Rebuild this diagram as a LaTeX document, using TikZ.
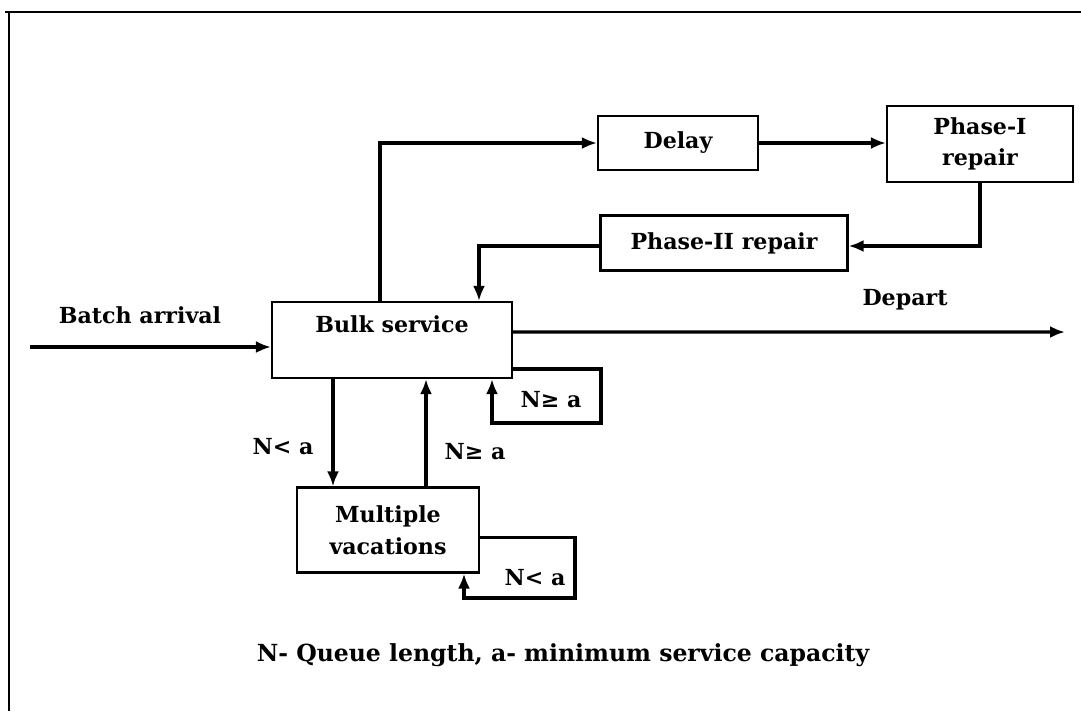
\documentclass[tikz,border=0pt]{standalone}
\usepackage{fontspec}
\setmainfont{DejaVu Serif}
\usetikzlibrary{arrows.meta}
\begin{document}
\begin{tikzpicture}[x=0.02cm, y=-0.02cm, line width=1.8pt,
  box/.style={draw, line width=1.2pt, align=center, font=\fontsize{12.6}{18}\selectfont\bfseries},
  lbl/.style={font=\fontsize{12.6}{17}\selectfont\bfseries},
  arr/.style={-{Latex[length=0.3cm, width=0.24cm]}}]
\useasboundingbox (0,0) rectangle (1081,711);
\draw[line width=1.2pt] (5,12) -- (1081,12);
\draw[line width=1.2pt] (9,12) -- (9,711);

\node (bulk) at (392, 340) [box, minimum width=4.8cm, minimum height=1.52cm] {Bulk service\\\mbox{}};
\node (delay) at (678, 143) [box, minimum width=3.2cm, minimum height=1.08cm] {Delay};
\node (phase1) at (980, 144) [box, minimum width=3.72cm, minimum height=1.52cm] {Phase-I\\repair};
\node (phase2) at (724, 243) [box, minimum width=4.94cm, minimum height=1.1cm] {Phase-II repair};
\node (vac) at (388, 530) [box, minimum width=3.64cm, minimum height=1.7cm] {Multiple\\vacations};

\coordinate (arrive) at (30, 347);
\coordinate (depart) at (1065, 332);
\coordinate (loopA) at (601, 423);
\coordinate (loopB) at (575, 598);

\node (batch) at (140, 315) [lbl] {Batch arrival};
\node (out) at (905, 300) [lbl] {Depart};
\node (geA) at (551, 400) [lbl] {N≥ a};
\node (ltA) at (283, 447) [lbl] {N< a};
\node (geB) at (475, 452) [lbl] {N≥ a};
\node (ltB) at (535, 578) [lbl] {N< a};
\node (note) at (563, 655) [font=\fontsize{13.4}{16}\selectfont\bfseries] {N- Queue length, a- minimum service capacity};

\draw[arr] (arrive) -- (arrive -| bulk.west);
\draw[arr] ([xshift=-0.24cm]bulk.north) |- (delay.west);
\draw[arr] (delay.east) -- (delay.east -| phase1.west);
\draw[arr] (phase1.south) |- ([yshift=-0.06cm]phase2.east);
\draw[arr] ([yshift=-0.06cm]phase2.west) -| ([xshift=1.74cm]bulk.north);
\draw[arr] ([yshift=0.16cm]bulk.east) -- (depart);
\draw[arr] ([yshift=-0.58cm]bulk.east) -| (loopA) -| ([xshift=2cm]bulk.south);
\draw[arr] ([xshift=-1.18cm]bulk.south) -- ([xshift=-1.18cm]bulk.south |- vac.north);
\draw[arr] ([xshift=0.76cm]vac.north) -- ([xshift=0.76cm]vac.north |- bulk.south);
\draw[arr] ([yshift=-0.15cm]vac.east) -| (loopB) -| ([xshift=1.52cm]vac.south);
\end{tikzpicture}
\end{document}
